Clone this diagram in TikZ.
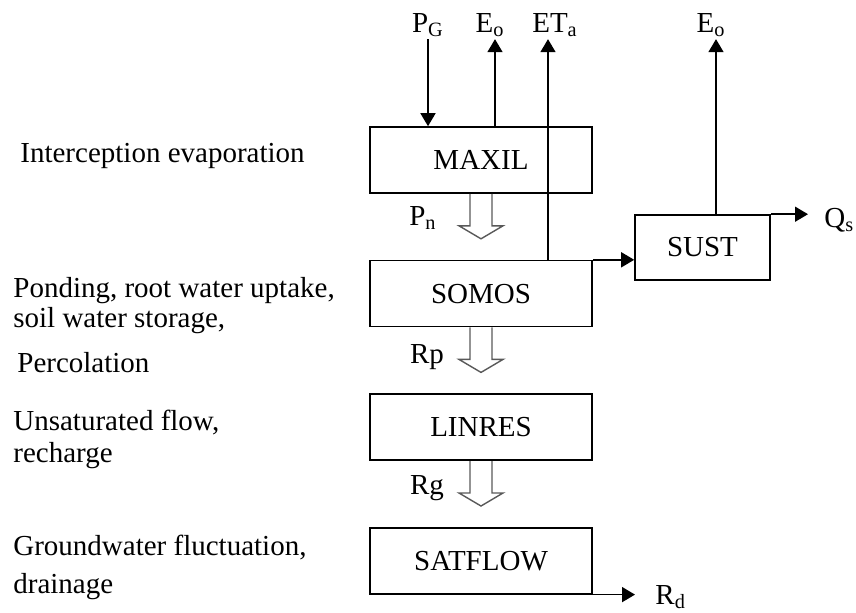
\documentclass[tikz,border=0pt]{standalone}
\usepackage{fontspec}
\setmainfont{Liberation Serif}
\usetikzlibrary{positioning, arrows.meta, calc}

\tikzset{
  block/.style={draw, line width=0.8pt, minimum width=111pt, minimum height=33pt, inner sep=0pt},
  flow/.style={line width=0.8pt, -{Triangle[length=6.5pt,width=7.5pt]}},
  hollow/.style={draw=gray!70!black, line width=0.7pt},
  note/.style={anchor=base west, align=left, inner sep=0pt},
  flux/.style={inner sep=1pt},
}

% open double arrow hanging below a box
\newcommand{\hollowarrow}[1]{%
  \draw[hollow] ($(#1.south)+(-11,0)$) -- ++(0,32) -- ++(-11,0) -- ++(22,13)
    -- ++(22,-13) -- ++(-11,0) -- ++(0,-32);}

\begin{document}
\begin{tikzpicture}[x=0.5pt, y=-0.5pt, font=\fontsize{14.5}{15}\selectfont]
  \useasboundingbox (0,0) rectangle (856,612);

  % model chain
  \node[block] (maxil) at (481,160) {MAXIL};
  \node[block, below=33pt of maxil] (somos) {SOMOS};
  \node[block, below=33pt of somos] (linres) {LINRES};
  \node[block, below=33pt of linres] (satflow) {SATFLOW};
  \node[block, minimum width=67.5pt, minimum height=32.5pt] (sust) at (702.5,247.5) {SUST};

  % process descriptions (base = last line)
  \node[note] (interc) at (20,162) {Interception evaporation};
  \node[note] (ponding) at (13,327) {Ponding, root water uptake,\\soil water storage,};
  \node[note] (percol) at (17,372) {Percolation};
  \node[note] (unsat) at (13,462) {Unsaturated flow,\\[1pt]recharge};
  \node[note] (ground) at (13,593) {Groundwater fluctuation,\\[4pt]drainage};

  % fluxes at the top
  \node[flux] (pg) at (428,25) {P\textsubscript{G}};
  \node[flux] (eo1) at (490,25) {E\textsubscript{o}};
  \node[flux] (eta) at (555,25) {ET\textsubscript{a}};
  \node[flux] (eo2) at (711,25) {E\textsubscript{o}};

  \draw[flow] (pg.south) -- (pg.south |- maxil.north);
  \draw[flow] ([xshift=7pt]maxil.north) -- ([xshift=7pt]maxil.north |- eo1.south);
  \draw[flow] ([xshift=33.5pt]somos.north) -- ([xshift=33.5pt]somos.north |- eta.south);
  \draw[flow] ([xshift=6.75pt]sust.north) -- ([xshift=6.75pt]sust.north |- eo2.south);

  % lateral outflows
  \node[flux, anchor=west] (qs) at (822,220) {Q\textsubscript{s}};
  \node[flux, anchor=base west] (rd) at (653,604) {R\textsubscript{d}};
  \draw[flow] (somos.north east) -- (somos.north east -| sust.west);
  \draw[flow] (sust.north east) -- ([xshift=-7pt]qs.west |- sust.north east);
  \draw[flow] (satflow.south east) -- ([xshift=-9pt]rd.west |- satflow.south east);

  % vertical percolation
  \hollowarrow{maxil}
  \hollowarrow{somos}
  \hollowarrow{linres}
  \node[flux] (pn) at (423,218) {P\textsubscript{n}};
  \node[flux] (rp) at (427,357) {Rp};
  \node[flux] (rg) at (427,488) {Rg};
\end{tikzpicture}
\end{document}
